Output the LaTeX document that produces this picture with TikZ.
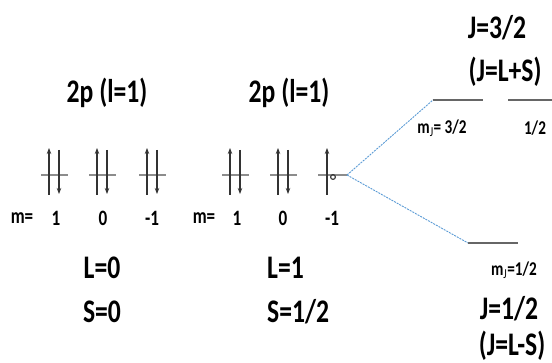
\documentclass[tikz,border=0pt]{standalone}
\usepackage{fontspec}
\setmainfont{Carlito}
\usetikzlibrary{arrows.meta, positioning}
\definecolor{splitblue}{RGB}{91,155,213}
\newcommand{\tall}[1]{\scalebox{0.95}[1.22]{#1}}

\begin{document}
\begin{tikzpicture}[
			x=1pt, y=-1pt,
			>={Stealth[length=6pt, width=4.5pt]},
			big/.style={font=\fontsize{27}{30}\selectfont\bfseries, inner sep=0pt},
			small/.style={font=\fontsize{18}{20}\selectfont\bfseries, inner sep=0pt},
			tiny/.style={font=\fontsize{16}{18}\selectfont\bfseries, inner sep=0pt},
			orb/.style={line width=1.4pt, color=black!45},
			spin/.style={->, line width=1.1pt, color=black!80},
			level/.style={line width=1.4pt, color=black!60},
			split/.style={line width=0.9pt, color=splitblue, dash pattern=on 2pt off 1pt},
			]
			\useasboundingbox (0,0) rectangle (552,363);
			
			% -- headings ---------------------------------------------------
			\node[big] (hl) at (107, 93) {\tall{2p (l=1)}};
			\node[big] (hr) at (289, 93) {\tall{2p (l=1)}};
			
			% -- filled orbitals --------------------------------------------
			\foreach \cx/\nm in {54/a1, 102/a2, 152/a3, 235/b1, 283/b2} {
				\draw[orb] (\cx-13, 175) -- (\cx+14, 175);
				\draw[spin] (\cx-5, 195) -- (\cx-5, 148);
				\draw[spin] (\cx+5, 150) -- (\cx+5, 194);
			}
			
			% -- half-filled orbital ----------------------------------------
			\draw[orb] (318, 175) -- (347, 175);
			\draw[spin] (327, 195) -- (327, 148);
			\draw[line width=1.1pt, color=black!80] (333, 177) circle (2.4);
			\coordinate (b3) at (347, 175);
			
			% -- m labels ---------------------------------------------------
			\node[small] (ml) at (22, 218) {\tall{m=}};
			\node[small] (ml1) at (56, 218) {\tall{1}};
			\node[small] (ml2) at (103, 218) {\tall{0}};
			\node[small] (ml3) at (152, 218) {\tall{-1}};
			\node[small] (mr) at (204, 218) {\tall{m=}};
			\node[small] (mr1) at (237, 218) {\tall{1}};
			\node[small] (mr2) at (283, 218) {\tall{0}};
			\node[small] (mr3) at (332, 218) {\tall{-1}};
			
			% -- L, S -------------------------------------------------------
			\node[big] (l0) at (102, 268) {\tall{L=0}};
			\node[big] (s0) at (102, 312) {\tall{S=0}};
			\node[big, anchor=west] (l1) at (267, 268) {\tall{L=1}};
			\node[big, anchor=west] (s1) at (267, 312) {\tall{S=1/2}};
			
			% -- J = 3/2 levels ---------------------------------------------
			\coordinate (u1) at (433, 100);
			\coordinate (u1e) at (483, 100);
			\coordinate (u2) at (508, 100);
			\coordinate (u2e) at (552, 100);
			\draw[level] (u1) -- (u1e);
			\draw[level] (u2) -- (u2e);
			\node[tiny] (mj3) at (442, 128) {\tall{m$_\mathrm{J}$= 3/2}};
			\node[tiny] (mj1) at (535, 128) {\tall{1/2}};
			\node[big] (j3) at (497, 28) {\tall{J=3/2}};
			\node[big] (j3b) at (505, 72) {\tall{(J=L+S)}};
			
			% -- J = 1/2 level ----------------------------------------------
			\coordinate (d1) at (468, 243);
			\coordinate (d1e) at (518, 243);
			\draw[level] (d1) -- (d1e);
			\node[tiny] (mjd) at (514, 270) {\tall{m$_\mathrm{J}$=1/2}};
			\node[big] (j1) at (509, 309) {\tall{J=1/2}};
			\node[big] (j1b) at (512, 346) {\tall{(J=L-S)}};
			
			% -- splitting --------------------------------------------------
			\draw[split] (b3) -- (u1);
			\draw[split] (b3) -- (d1);
			
		\end{tikzpicture}
\end{document}
